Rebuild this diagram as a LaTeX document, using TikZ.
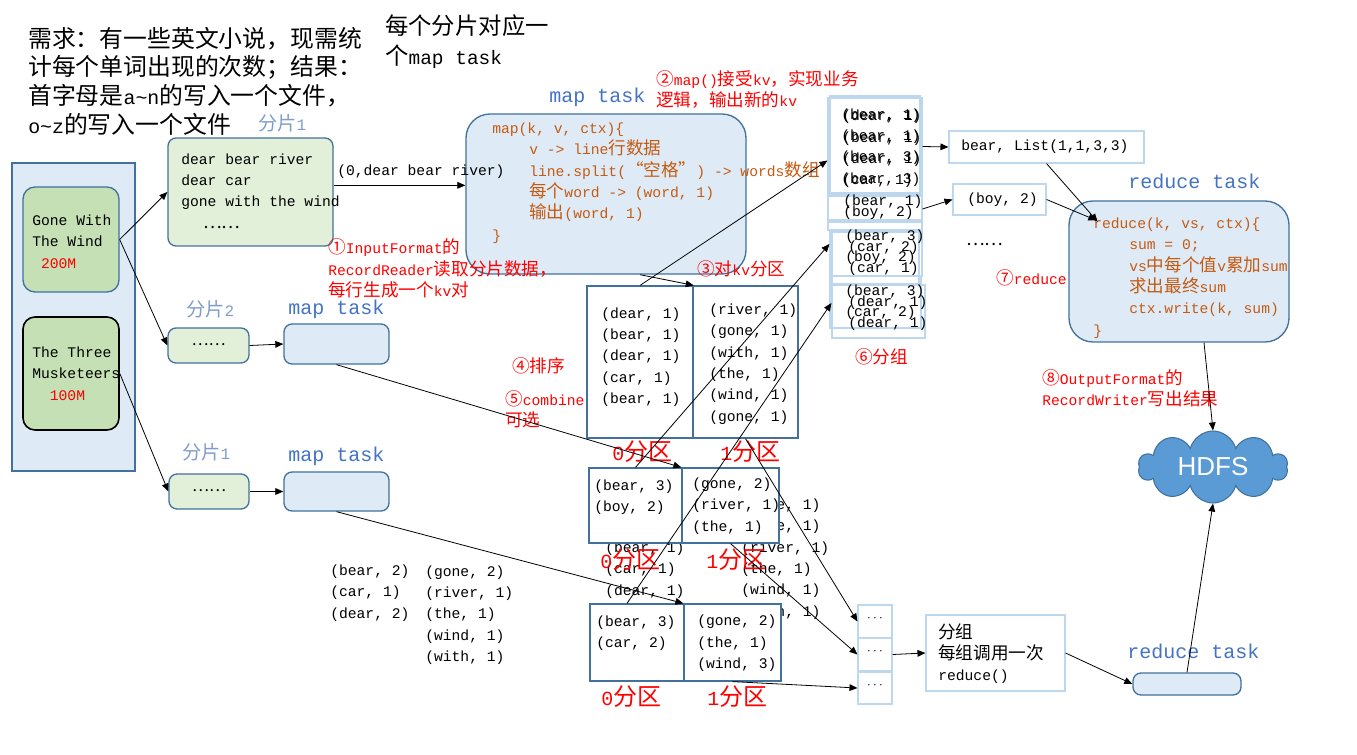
\documentclass[tikz,border=0pt]{standalone}
\usepackage{fontspec}
\setmainfont{Liberation Mono}
\newfontfamily\cjkfont[Scale=1.2]{Noto Sans CJK SC}
\newfontfamily\hdfsfont{Liberation Sans}
\usetikzlibrary{fit}
\usetikzlibrary{arrows.meta}
\usetikzlibrary{shapes.symbols}
% CJK characters switch to the CJK font by themselves
\XeTeXinterchartokenstate=1
\newXeTeXintercharclass\CjkClass
\newcount\CjkCount
\newcommand\CjkRange[2]{\CjkCount=#1\relax
  \loop\XeTeXcharclass\CjkCount=\CjkClass
  \ifnum\CjkCount<#2\advance\CjkCount by 1\repeat}
\CjkRange{"4E00}{"9FFF}
\CjkRange{"3000}{"303F}
\CjkRange{"FF00}{"FFEF}
\CjkRange{"2460}{"24FF}
\CjkRange{"2018}{"201F}
\CjkRange{"2026}{"2026}
\XeTeXinterchartoks 0 \CjkClass = {\begingroup\cjkfont}
\XeTeXinterchartoks 4095 \CjkClass = {\begingroup\cjkfont}
\XeTeXinterchartoks \CjkClass 0 = {\endgroup}
\XeTeXinterchartoks \CjkClass 4095 = {\endgroup}
\definecolor{ColBorder}{RGB}{65,113,156}
\definecolor{ColFill}{RGB}{222,235,247}
\definecolor{ColGreen}{RGB}{197,224,180}
\definecolor{ColPaleGreen}{RGB}{226,240,217}
\definecolor{ColPale}{RGB}{189,215,238}
\definecolor{ColCode}{RGB}{197,90,17}
\definecolor{ColTask}{RGB}{68,114,196}
\definecolor{ColSplit}{RGB}{128,156,204}
\definecolor{ColCloud}{RGB}{91,155,213}
\tikzstyle{BookBox}=[rounded corners=9pt,draw=ColBorder,fill=ColGreen,line width=1pt,inner sep=0pt]
\tikzstyle{SplitBox}=[rounded corners=6pt,draw=ColBorder,fill=ColPaleGreen,line width=1pt,inner sep=0pt]
\tikzstyle{TaskBox}=[rounded corners=6pt,draw=ColBorder,fill=ColFill,line width=1pt,inner sep=0pt]
\tikzstyle{PartBox}=[draw=ColBorder,fill=white,line width=.9pt,inner sep=0pt]
\tikzstyle{ThinBox}=[draw=ColPale,line width=.8pt,inner sep=0pt]
\tikzstyle{Flow}=[-{Triangle[length=6pt,width=5pt]},line width=.6pt]
\tikzstyle{TextKv}=[inner sep=0pt,anchor=west,align=left,font=\fontsize{11}{16}\selectfont]
\tikzstyle{TextCode}=[TextKv,text=ColCode]
\tikzstyle{TextNote}=[TextKv,text=red]
\tikzstyle{TextTask}=[inner sep=0pt,anchor=west,text=ColTask,font=\fontsize{15}{18}\selectfont]
\tikzstyle{TextSplit}=[inner sep=0pt,anchor=west,text=ColSplit,font=\fontsize{12}{14}\selectfont]
\tikzstyle{TextPart}=[inner sep=0pt,anchor=west,text=red,font=\fontsize{15}{18}\selectfont]
\tikzstyle{TextHead}=[inner sep=0pt,anchor=west,align=left,font=\fontsize{14.9}{21.5}\selectfont]

\begin{document}
\begin{tikzpicture}[x=.75pt,y=-.75pt]
        \useasboundingbox (0,0) rectangle (1357,755);
        % heading
        \node[TextHead](head)at(28,81){需求：有一些英文小说，现需统\\计每个单词出现的次数；结果：\\首字母是a\textasciitilde n的写入一个文件，\\o\textasciitilde z的写入一个文件};
        \node[TextHead,font=\fontsize{14.6}{22.5}\selectfont](title)at(385,42){每个分片对应一\\个map task};
        % books
        \node[fit={(12,163) (135,471)},inner sep=0pt,draw=ColBorder,fill=ColFill,line width=.8pt](lib){};
        \node[BookBox,fit={(23,187) (119,292)}](gone){};
        \node[BookBox,draw=black,line width=1.2pt,fit={(23,317) (119,430)}](three){};
        \node[TextKv,font=\fontsize{11}{16}\selectfont](gonet)at(32,241.5){Gone With\\The Wind\\\textcolor{red}{~200M}};
        \node[TextKv,font=\fontsize{11}{16}\selectfont](threet)at(32,373.5){The Three\\Musketeers\\\textcolor{red}{~~100M}};
        % splits
        \node[TextSplit](s1lab)at(258,123){分片1};
        \node[SplitBox,fit={(168,138) (333,246)}](split1){};
        \node[TextKv](split1t)at(181,191){dear bear river\\dear car\\gone with the wind\\\hspace*{16.5pt}……};
        \node[TextSplit](s2lab)at(186,309){分片2};
        \node[SplitBox,fit={(168,328) (249,363)}](split2){……};
        \node[TextSplit](s3lab)at(182,452){分片1};
        \node[SplitBox,fit={(169,474) (249,509)}](split3){……};
        % map tasks
        \node[TextTask](m1lab)at(549,97){map task};
        \node[TaskBox,rounded corners=18pt,fit={(466,114) (746,274)}](map1){};
        \node[TextCode](map1t)at(492,183){map(k, v, ctx)\{\\\hspace*{27.75pt}v -> line行数据\\\hspace*{27.75pt}line.split(“空格”) -> words数组\\\hspace*{27.75pt}每个word -> (word, 1)\\\hspace*{27.75pt}输出(word, 1)\\\}};
        \node[TextTask](m2lab)at(288,309){map task};
        \node[TaskBox,fit={(284,324) (389,364)}](map2){};
        \node[TextTask](m3lab)at(288,456){map task};
        \node[TaskBox,fit={(284,472) (389,511)}](map3){};
        \node[TextKv](kv0)at(337,172){(0,dear bear river)};
        % notes
        \node[TextNote](n1)at(328,268.5){①InputFormat的\\RecordReader读取分片数据，\\每行生成一个kv对};
        \node[TextNote](n2)at(656,89.5){②map()接受kv，实现业务\\逻辑，输出新的kv};
        \node[TextNote](n3)at(697,269){③对kv分区};
        \node[TextNote](n4)at(512,366){④排序};
        \node[TextNote](n5)at(505,409.5){⑤combine\\可选};
        \node[TextNote](n6)at(855,357){⑥分组};
        \node[TextNote](n7)at(996,278){⑦reduce};
        \node[TextNote](n8)at(1042,388.5){⑧OutputFormat的\\RecordWriter写出结果};
        % partitions
        \node[PartBox,fit={(587,286) (693,438)}](pA0){};
        \node[PartBox,fit={(693,286) (798,438)}](pA1){};
        \node[TextKv](pA0t)at(601,357){(dear, 1)\\(bear, 1)\\(dear, 1)\\(car, 1)\\(bear, 1)};
        \node[TextKv](pA1t)at(709,364){(river, 1)\\(gone, 1)\\(with, 1)\\(the, 1)\\(wind, 1)\\(gone, 1)};
        \node[TextPart](lA0)at(612,452){0分区};
        \node[TextPart](lA1)at(720,452){1分区};
        \node[TextKv](g0t)at(605,570){(bear, 1)\\(bear, 1)\\(car, 1)\\(dear, 1)\\(dear, 1)};
        \node[TextKv](g1t)at(741,559){(gone, 1)\\(gone, 1)\\(river, 1)\\(the, 1)\\(wind, 1)\\(with, 1)};
        \node[PartBox,fit={(589,468) (682,543)}](pB0){};
        \node[PartBox,fit={(682,468) (779,543)}](pB1){};
        \node[TextKv](pB0t)at(594,497.5){(bear, 3)\\(boy, 2)};
        \node[TextKv](pB1t)at(692,506){(gone, 2)\\(river, 1)\\(the, 1)};
        \node[TextPart](lB0)at(600,560){0分区};
        \node[TextPart](lB1)at(706,560){1分区};
        \node[PartBox,fit={(590,604) (684,681)}](pC0){};
        \node[PartBox,fit={(684,604) (781,681)}](pC1){};
        \node[TextKv](pC0t)at(596,633){(bear, 3)\\(car, 2)};
        \node[TextKv](pC1t)at(697,643.5){(gone, 2)\\(the, 1)\\(wind, 3)};
        \node[TextPart](lC0)at(601,697){0分区};
        \node[TextPart](lC1)at(707,697){1分区};
        \node[TextKv](f0t)at(330,593){(bear, 2)\\(car, 1)\\(dear, 2)};
        \node[TextKv](f1t)at(425,615){(gone, 2)\\(river, 1)\\(the, 1)\\(wind, 1)\\(with, 1)};
        % groups
        \draw[ThinBox](830,96)rectangle(920,193);
        \draw[ThinBox](828,220)rectangle(922,230);
        \draw[ThinBox](832,232)rectangle(919,284);
        \draw[ThinBox](830,276)rectangle(921,328);
        \node[ThinBox,fit={(828,98) (922,195)}](grpA){};
        \node[ThinBox,fit={(828,196) (922,222)}](grpB){};
        \node[ThinBox,fit={(830,230) (922,276)}](grpC){};
        \node[ThinBox,fit={(832,285) (925,338)}](grpD){};
        \node[TextKv](gA1)at(841,147.5){(bear, 1)\\(bear, 1)\\(bear, 3)\\(bear, 3)};
        \node[TextKv](gA2)at(842,149){(dear, 1)\\(bear, 1)\\(dear, 1)\\(car, 1)};
        \node[TextKv](gB1)at(843,202){(bear, 1)};
        \node[TextKv](gB2)at(843,213){(boy, 2)};
        \node[TextKv](gC1)at(845,247.5){(bear, 3)\\(boy, 2)};
        \node[TextKv](gC2)at(848,258){(car, 2)\\(car, 1)};
        \node[TextKv](gD1)at(845,302.5){(bear, 3)\\(car, 2)};
        \node[TextKv](gD2)at(848,313){(dear, 1)\\(dear, 1)};
        \node[ThinBox,fit={(949,131) (1144,163)}](listbox){};
        \node[TextKv](listt)at(961,147){bear, List(1,1,3,3)};
        \node[ThinBox,fit={(953,184) (1046,215)}](boybox){};
        \node[TextKv](boyt)at(967,200){(boy, 2)};
        \node[TextKv](more)at(966,245){……};
        % reduce
        \node[TextTask](r1lab)at(1128,181){reduce task};
        \node[TaskBox,rounded corners=18pt,fit={(1069,201) (1289,342)}](red1){};
        \node[TextCode](red1t)at(1093,278){reduce(k, vs, ctx)\{\\\hspace*{27pt}sum = 0;\\\hspace*{27pt}vs中每个值v累加sum\\\hspace*{27pt}求出最终sum\\\hspace*{27pt}ctx.write(k, sum)\\\}};
        \node[ThinBox,fit={(858,605) (892,638)}](dots1){$\cdots$};
        \node[ThinBox,fit={(858,638) (892,671)}](dots2){$\cdots$};
        \node[ThinBox,fit={(858,672) (892,704)}](dots3){$\cdots$};
        \node[ThinBox,fit={(926,615) (1065,691)}](callbox){};
        \node[TextKv](callt)at(938,653.5){分组\\每组调用一次\\reduce()};
        \node[TextTask](r2lab)at(1127,651){reduce task};
        \node[TaskBox,fit={(1133,673) (1241,695)}](red2){};
        \node[cloud,cloud puffs=10,aspect=2.1,draw=ColBorder,fill=ColCloud,line width=.8pt,minimum width=112pt,minimum height=54pt,inner sep=0pt,text=white,font=\hdfsfont\fontsize{19.5}{22}\selectfont](hdfs)at(1213,467){HDFS};
        % connectors
        \draw[Flow](gone.east)--(split1.west);
        \draw[Flow](gone.east)--(split2.west);
        \draw[Flow](three.east)--(split3.west);
        \draw[Flow]([yshift=5pt]split1.east)--([yshift=5pt]split1.east-|map1.west);
        \draw[Flow](split2.east)--(map2.west);
        \draw[Flow](split3.east)--(map3.west);
        \draw[Flow]([xshift=25.5pt]map1.south)--([xshift=1pt]pA1.north west);
        \draw[Flow](map2.south)--(pB1.north west);
        \draw[Flow](map3.south)--(pC1.north west);
        \draw[Flow](pA0.north)--([yshift=-10.5pt]grpA.west);
        \draw[Flow](pB0.north)--([yshift=6.75pt]grpC.west);
        \draw[Flow]([xshift=-7.5pt]pC0.north)--([yshift=6.4pt]grpD.west);
        \draw[Flow](pA1.south)--(dots1.west);
        \draw[Flow](pB1.south)--(dots2.west);
        \draw[Flow](pC1.south)--(dots3.west);
        \draw[Flow](dots2.east)--(callbox.west);
        \draw[Flow](callbox.east)--(red2.west);
        \draw[Flow](red2.north)--(hdfs.south);
        \draw[Flow]([xshift=18.75pt]red1.south)--(hdfs.north);
        \draw[Flow](grpA.east)--(listbox.west);
        \draw[Flow](grpB.east)--(boybox.west);
        \draw[Flow](listbox.south)--([xshift=22pt,yshift=-16pt]red1.north west);
        \draw[Flow](boybox.east)--([xshift=21pt,yshift=-15pt]red1.north west);
    \end{tikzpicture}
\end{document}
